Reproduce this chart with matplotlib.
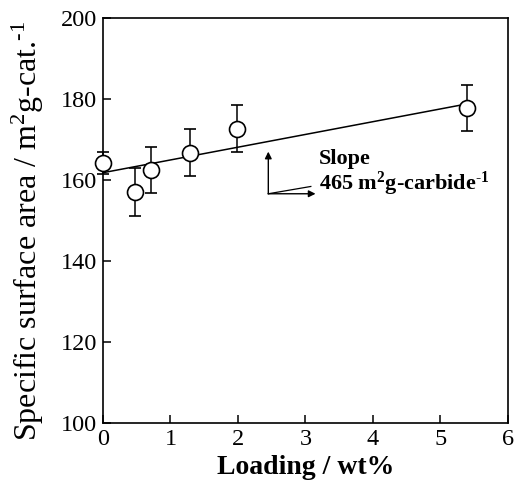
import matplotlib
matplotlib.use("Agg")
import matplotlib.pyplot as plt

plt.rcParams['font.family'] = ['Liberation Serif', 'DejaVu Serif']
plt.rcParams['mathtext.fontset'] = 'custom'
plt.rcParams['mathtext.rm'] = 'Liberation Serif'
plt.rcParams['mathtext.bf'] = 'Liberation Serif:bold'
plt.rcParams['mathtext.it'] = 'Liberation Serif:italic'

loading = [0.0, 0.48, 0.71, 1.29, 1.99, 5.39]
area = [164.2, 157.0, 162.4, 166.7, 172.6, 177.8]
err = [2.7, 5.9, 5.7, 5.8, 5.8, 5.7]
fit_x = [0.0, 5.4]
fit_y = [161.8, 178.8]

fig = plt.figure(figsize=(5.14, 4.82), dpi=100)
ax = fig.add_axes([0.2004, 0.1224, 0.7876, 0.8403])

ax.plot(fit_x, fit_y, color='black', lw=1.1, zorder=2)
ax.errorbar(loading, area, yerr=err, fmt='o', ms=11.5, mfc='white', mec='black',
            mew=1.2, ecolor='black', elinewidth=1.1, capsize=4, capthick=1.1,
            clip_on=False, zorder=3)

ax.set_xlim(0, 6)
ax.set_ylim(100, 200)
ax.set_xticks([0, 1, 2, 3, 4, 5, 6])
ax.set_yticks([100, 120, 140, 160, 180, 200])
ax.tick_params(axis='both', direction='in', length=6, width=1.1, labelsize=17.5,
               top=False, right=False)
ax.tick_params(axis='x', pad=4)
ax.tick_params(axis='y', pad=4)
for s in ax.spines.values():
    s.set_linewidth(1.2)

ax.set_xlabel('Loading / wt%', fontsize=20, fontweight='bold', labelpad=4)
ax.set_ylabel(r'Specific surface area / m$^{\mathrm{2}}$g-cat.$^{\mathrm{\text{-}1}}$',
              fontsize=23, fontweight='normal', labelpad=3)
ax.yaxis.set_label_coords(-0.14, 0.473)

# slope annotation
ax.annotate('', xy=(2.45, 167.0), xytext=(2.45, 156.6),
            arrowprops=dict(arrowstyle='-|>', color='black', lw=1.0,
                            mutation_scale=10, shrinkA=0, shrinkB=0))
ax.annotate('', xy=(3.15, 156.6), xytext=(2.45, 156.6),
            arrowprops=dict(arrowstyle='-|>', color='black', lw=1.0,
                            mutation_scale=10, shrinkA=0, shrinkB=0))
ax.plot([2.45, 3.08], [156.6, 158.4], color='black', lw=0.9)
ax.text(3.2, 164.0, 'Slope', fontsize=16, fontweight='bold', va='baseline')
ax.text(3.2, 157.6, r'465 m$^{\mathbf{2}}$g-carbide$^{\mathbf{\text{-}1}}$', fontsize=16,
        fontweight='bold', va='baseline')

fig.savefig('out.png', dpi=100)
